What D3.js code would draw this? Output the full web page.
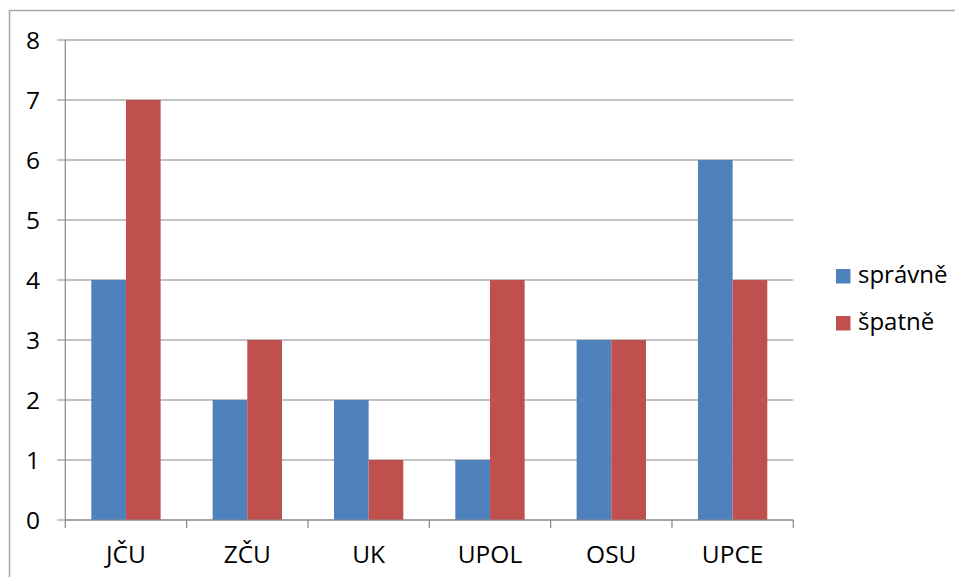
<!DOCTYPE html>
<html><head><meta charset="utf-8">
<script src="https://cdn.jsdelivr.net/npm/d3@7"></script>
<style>body{margin:0;background:#fff}svg{display:block}text{font-family:"Open Sans",sans-serif;fill:#000}</style>
</head><body>
<svg id="c" width="955" height="577"></svg>
<script>
const categories = ["JČU","ZČU","UK","UPOL","OSU","UPCE"];
const seriesNames = ["správně","špatně"];
const spravne = [4,2,2,1,3,6];
const spatne = [7,3,1,4,3,4];
const yTicks = [0,1,2,3,4,5,6,7,8];
const colors = ["#4F81BD","#C0504D"];

(function(){
const svg = d3.select("#c");
const pLeft = 65.3, pRight = 793.3, pTop = 40, pBottom = 520;
svg.append("path").attr("d","M9.5,577V10.5H960").attr("fill","none").attr("stroke","#a6a6a6").attr("stroke-width",1.5);

const x = d3.scaleBand().domain(categories).range([pLeft,pRight]).paddingInner(0).paddingOuter(0);
const y = d3.scaleLinear().domain([0,8]).range([pBottom,pTop]);
const bw = x.bandwidth()/3.5;

svg.append("g").selectAll("line").data(yTicks).join("line")
  .attr("x1",pLeft-8).attr("x2",pRight).attr("y1",d=>y(d)).attr("y2",d=>y(d))
  .attr("stroke","#878787").attr("stroke-width",1.2);

const data = categories.map((c,i)=>({c, v:[spravne[i],spatne[i]]}));
const g = svg.append("g");
data.forEach(d=>{
  d.v.forEach((v,j)=>{
    g.append("rect").attr("x",x(d.c)+bw*0.75+j*bw).attr("width",bw)
     .attr("y",y(v)).attr("height",y(0)-y(v)).attr("fill",colors[j]);
  });
});

svg.append("line").attr("x1",pLeft).attr("x2",pLeft).attr("y1",pTop).attr("y2",pBottom).attr("stroke","#878787").attr("stroke-width",1.2);
const xt = categories.map(c=>x(c)).concat([pRight]);
svg.append("g").selectAll("line").data(xt).join("line")
  .attr("x1",d=>d).attr("x2",d=>d).attr("y1",pBottom).attr("y2",pBottom+8)
  .attr("stroke","#878787").attr("stroke-width",1.2);
svg.append("line").attr("x1",pLeft).attr("x2",pRight).attr("y1",pBottom).attr("y2",pBottom).attr("stroke","#878787").attr("stroke-width",1.2);

svg.append("g").selectAll("text").data(yTicks).join("text")
  .attr("x",40).attr("y",d=>y(d)).attr("dy","0.357em").attr("text-anchor","end")
  .attr("font-size",24.5).text(d=>d);
svg.append("g").selectAll("text").data(categories).join("text")
  .attr("x",d=>x(d)+x.bandwidth()/2).attr("y",563).attr("text-anchor","middle")
  .attr("font-size",24.5).text(d=>d);

const lg = svg.append("g");
seriesNames.forEach((n,i)=>{
  const cy = 276 + i*47;
  lg.append("rect").attr("x",836).attr("y",cy-7).attr("width",14.5).attr("height",14.5).attr("fill",colors[i]);
  lg.append("text").attr("x",858).attr("y",cy+7).attr("font-size",24).text(n);
});
})();
</script>
</body></html>
